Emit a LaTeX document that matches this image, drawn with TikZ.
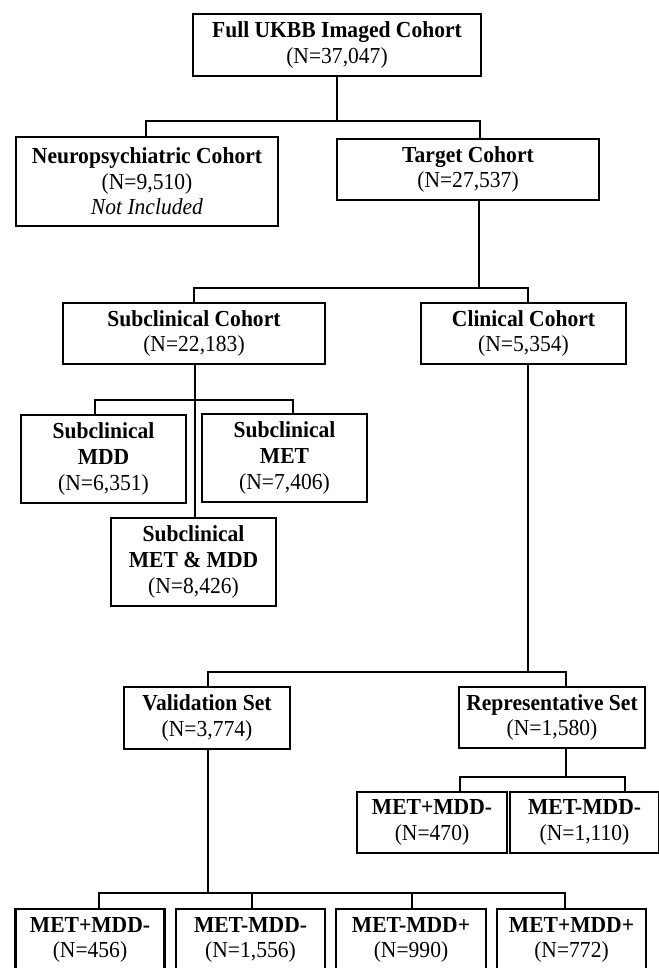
\documentclass[tikz,border=0pt]{standalone}
\usepackage{fontspec}
\setmainfont{Liberation Serif}[FakeStretch=0.94]
\begin{document}
\begin{tikzpicture}[x=0.75pt,y=-0.75pt,
  box/.style={draw=black, line width=2.2pt, fill=white, align=center, inner sep=0pt,
    font=\fontsize{17.2}{19.2}\selectfont},
  conn/.style={draw=black, line width=1.4pt}]
\useasboundingbox (0,0) rectangle (659,968);
\clip (0,0) rectangle (659,968);
\fill[white] (0,0) rectangle (659,968);
% boxes
\node[box, minimum width=288*0.75pt, minimum height=62*0.75pt] (full) at (337,45) {\textbf{Full UKBB Imaged Cohort}\\(N=37,047)};
\node[box, minimum width=262*0.75pt, minimum height=89*0.75pt] (neuro) at (147,181.5) {\textbf{Neuropsychiatric Cohort}\\(N=9,510)\\\textit{Not Included}};
\node[box, minimum width=262*0.75pt, minimum height=61*0.75pt] (target) at (468,169.5) {\textbf{Target Cohort}\\(N=27,537)};
\node[box, minimum width=262*0.75pt, minimum height=61*0.75pt] (sub) at (194,333.5) {\textbf{Subclinical Cohort}\\(N=22,183)};
\node[box, minimum width=205*0.75pt, minimum height=61*0.75pt] (clin) at (523.5,333.5) {\textbf{Clinical Cohort}\\(N=5,354)};
\node[box, minimum width=165*0.75pt, minimum height=88*0.75pt] (smdd) at (103.5,459) {\textbf{Subclinical}\\\textbf{MDD}\\(N=6,351)};
\node[box, minimum width=165*0.75pt, minimum height=88*0.75pt] (smet) at (284.5,458) {\textbf{Subclinical}\\\textbf{MET}\\(N=7,406)};
\node[box, minimum width=165*0.75pt, minimum height=88*0.75pt] (sboth) at (193.5,562) {\textbf{Subclinical}\\\textbf{MET \& MDD}\\(N=8,426)};
\node[box, minimum width=166*0.75pt, minimum height=62*0.75pt] (val) at (207,718) {\textbf{Validation Set}\\(N=3,774)};
\node[box, minimum width=186*0.75pt, minimum height=61*0.75pt] (rep) at (552,717.5) {\textbf{Representative Set}\\(N=1,580)};
\node[box, minimum width=150*0.75pt, minimum height=61*0.75pt] (ra) at (432,822.5) {\textbf{MET+MDD-}\\(N=470)};
\node[box, minimum width=149*0.75pt, minimum height=61*0.75pt] (rb) at (584.5,822.5) {\textbf{MET-MDD-}\\(N=1,110)};
\node[box, minimum width=149*0.75pt, minimum height=62*0.75pt] (ba) at (90,940) {\textbf{MET+MDD-}\\(N=456)};
\node[box, minimum width=149*0.75pt, minimum height=62*0.75pt] (bb) at (250.5,940) {\textbf{MET-MDD-}\\(N=1,556)};
\node[box, minimum width=150*0.75pt, minimum height=62*0.75pt] (bc) at (411,940) {\textbf{MET-MDD+}\\(N=990)};
\node[box, minimum width=149*0.75pt, minimum height=62*0.75pt] (bd) at (571.5,940) {\textbf{MET+MDD+}\\(N=772)};
% junction coordinates
\coordinate (b1l) at (146,121); \coordinate (b1r) at (480,121);
\coordinate (t2) at (479,288); \coordinate (b2l) at (194,288); \coordinate (b2r) at (528,288);
\coordinate (s3) at (195,400); \coordinate (b3l) at (95,400); \coordinate (b3r) at (293,400);
\coordinate (c4) at (528,672); \coordinate (b4l) at (208,672); \coordinate (b4r) at (566,672);
\coordinate (r5) at (566,777); \coordinate (b5l) at (460,777); \coordinate (b5r) at (625,777);
\coordinate (v6) at (208,893); \coordinate (b6l) at (99,893); \coordinate (b6r) at (565,893);
\coordinate (d2) at (252,893); \coordinate (d3) at (412,893);
% connectors
\draw[conn] (full.south) -- (full.south |- b1l);
\draw[conn] (neuro.north -| b1l) |- (b1r) -- (b1r |- target.north);
\draw[conn] (t2 |- target.south) -- (t2);
\draw[conn] (sub.north -| b2l) |- (b2r) -- (b2r |- clin.north);
\draw[conn] (s3 |- sub.south) -- (s3 |- sboth.north);
\draw[conn] (smdd.north -| b3l) |- (b3r) -- (b3r |- smet.north);
\draw[conn] (c4 |- clin.south) -- (c4);
\draw[conn] (val.north -| b4l) |- (b4r) -- (b4r |- rep.north);
\draw[conn] (r5 |- rep.south) -- (r5);
\draw[conn] (ra.north -| b5l) |- (b5r) -- (b5r |- rb.north);
\draw[conn] (v6 |- val.south) -- (v6);
\draw[conn] (ba.north -| b6l) |- (b6r) -- (b6r |- bd.north);
\draw[conn] (d2) -- (d2 |- bb.north);
\draw[conn] (d3) -- (d3 |- bc.north);
\end{tikzpicture}
\end{document}
